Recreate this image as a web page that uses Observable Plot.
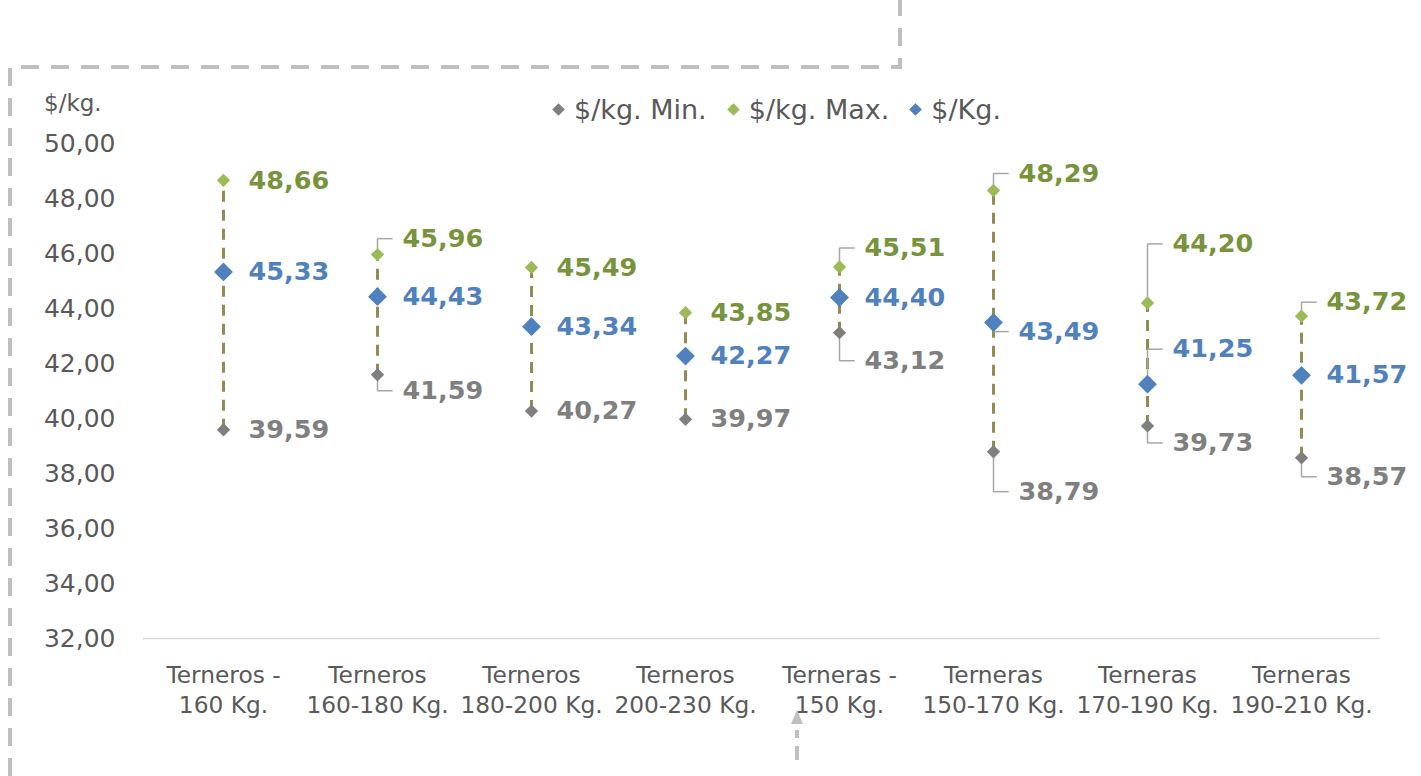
<!DOCTYPE html>
<html>
<head>
<meta charset="utf-8">
<script src="https://cdn.jsdelivr.net/npm/d3@7"></script>
<script src="https://cdn.jsdelivr.net/npm/@observablehq/plot@0.6"></script>
<style>
  html, body { margin: 0; padding: 0; background: #fff; }
  #wrap { position: relative; width: 1421px; height: 776px; overflow: hidden; font-family: "DejaVu Sans", sans-serif; }
  #chart { position: absolute; left: 0; top: 0; }
  #deco { position: absolute; left: 0; top: 0; pointer-events: none; }
  #ylab { position: absolute; left: 44px; top: 90px; font-size: 23px; color: #595959; }
  #legend { position: absolute; left: 554px; top: 94px; display: flex; align-items: center; font-size: 27px; color: #595959; white-space: nowrap; }
  #legend .it { display: flex; align-items: center; margin-right: 22px; }
  #legend .dm { width: 9px; height: 9px; transform: rotate(45deg); margin-right: 11px; }
</style>
</head>
<body>
<div id="wrap">
  <div id="chart"></div>
  <div id="ylab">$/kg.</div>
  <div id="legend"></div>
  <svg id="deco" width="1421" height="776"></svg>
</div>
<script>
// ---- data ----
const categories = ["Terneros -\n160 Kg.", "Terneros\n160-180 Kg.", "Terneros\n180-200 Kg.", "Terneros\n200-230 Kg.",
                    "Terneras -\n150 Kg.", "Terneras\n150-170 Kg.", "Terneras\n170-190 Kg.", "Terneras\n190-210 Kg."];
const minValues = [39.59, 41.59, 40.27, 39.97, 43.12, 38.79, 39.73, 38.57];
const maxValues = [48.66, 45.96, 45.49, 43.85, 45.51, 48.29, 44.20, 43.72];
const avgValues = [45.33, 44.43, 43.34, 42.27, 44.40, 43.49, 41.25, 41.57];
const yTicks = [32, 34, 36, 38, 40, 42, 44, 46, 48, 50];
const seriesNames = ["$/kg. Min.", "$/kg. Max.", "$/Kg."];
// label displacement (in $/kg units) as dragged in the original
const minLabelShift = [0, -0.58, 0, 0, -1.02, -1.45, -0.62, -0.69];
const maxLabelShift = [0, 0.58, 0, 0, 0.69, 0.62, 2.15, 0.51];
const avgLabelShift = [0, 0, 0, 0, 0, -0.33, 1.27, 0];

// ---- styles ----
const markerColor = {"$/kg. Min.": "#7f7f7f", "$/kg. Max.": "#9bbb59", "$/Kg.": "#4f81bd"};
const labelColor = {"$/kg. Min.": "#7f7f7f", "$/kg. Max.": "#77933c", "$/Kg.": "#4f81bd"};
const fmt = v => v.toFixed(2).replace(".", ",");

const rows = [];
categories.forEach((c, i) => {
  rows.push({cat: c, series: seriesNames[0], value: minValues[i], shift: minLabelShift[i]});
  rows.push({cat: c, series: seriesNames[1], value: maxValues[i], shift: maxLabelShift[i]});
  rows.push({cat: c, series: seriesNames[2], value: avgValues[i], shift: avgLabelShift[i]});
});
const ranges = categories.map((c, i) => ({cat: c, lo: minValues[i], hi: maxValues[i]}));
const leaders = rows.filter(d => Math.abs(d.shift) > 0.3);

const W = 1421, H = 776, mL = 143, mR = 41, mT = 143, mB = 138;
const band = (W - mL - mR) / categories.length;
const font = "'DejaVu Sans', sans-serif";

const plot = Plot.plot({
  width: W, height: H,
  marginLeft: mL, marginRight: mR, marginTop: mT, marginBottom: mB,
  style: {fontFamily: font, color: "#595959", background: "transparent", overflow: "visible"},
  x: {type: "band", domain: categories, padding: 0},
  y: {domain: [32, 50]},
  marks: [
    Plot.ruleY([32], {stroke: "#d9d9d9", strokeWidth: 1.5}),
    Plot.axisY({ticks: yTicks, tickSize: 0, tickPadding: 28, fontSize: 25, tickFormat: fmt, label: null}),
    Plot.axisX({tickSize: 0, tickPadding: 22, fontSize: 23.3, lineHeight: 1.33, label: null}),
    Plot.link(ranges, {x1: "cat", x2: "cat", y1: "lo", y2: "hi", stroke: "#948a54", strokeWidth: 3, strokeDasharray: "11,8"}),
    Plot.link(leaders, {x1: "cat", x2: "cat", y1: "value", y2: d => d.value + d.shift, stroke: "#a6a6a6", strokeWidth: 1.5}),
    Plot.tickY(leaders, {x: "cat", y: d => d.value + d.shift, stroke: "#a6a6a6", strokeWidth: 1.5,
      insetLeft: band / 2, insetRight: band / 2 - 16}),
    Plot.dot(rows.filter(d => d.series !== "$/Kg."), {x: "cat", y: "value", symbol: "diamond2", r: 6,
      fill: d => markerColor[d.series], stroke: "none"}),
    Plot.dot(rows.filter(d => d.series === "$/Kg."), {x: "cat", y: "value", symbol: "diamond2", r: 8.5,
      fill: d => markerColor[d.series], stroke: "none"}),
    Plot.text(rows, {x: "cat", y: d => d.value + d.shift, text: d => fmt(d.value), dx: 25, textAnchor: "start",
      fontSize: 25.5, fontWeight: "bold", fill: d => labelColor[d.series]})
  ]
});
document.getElementById("chart").append(plot);

// legend
const leg = document.getElementById("legend");
seriesNames.forEach(s => {
  const it = document.createElement("div"); it.className = "it";
  const dm = document.createElement("span"); dm.className = "dm"; dm.style.background = markerColor[s];
  const tx = document.createElement("span"); tx.textContent = s;
  it.append(dm, tx); leg.append(it);
});

// decorative dashed connector around the chart
const deco = d3.select("#deco");
deco.append("path").attr("d", "M10,776 L10,67 L900,67 L900,0")
  .attr("fill", "none").attr("stroke", "#bfbfbf").attr("stroke-width", 4).attr("stroke-dasharray", "18,12");
deco.append("path").attr("d", "M797,760 L797,730").attr("stroke", "#bfbfbf").attr("stroke-width", 4).attr("stroke-dasharray", "14,8");
deco.append("path").attr("d", "M797,710 L803,724 L791,724 Z").attr("fill", "#bfbfbf");
</script>
</body>
</html>
